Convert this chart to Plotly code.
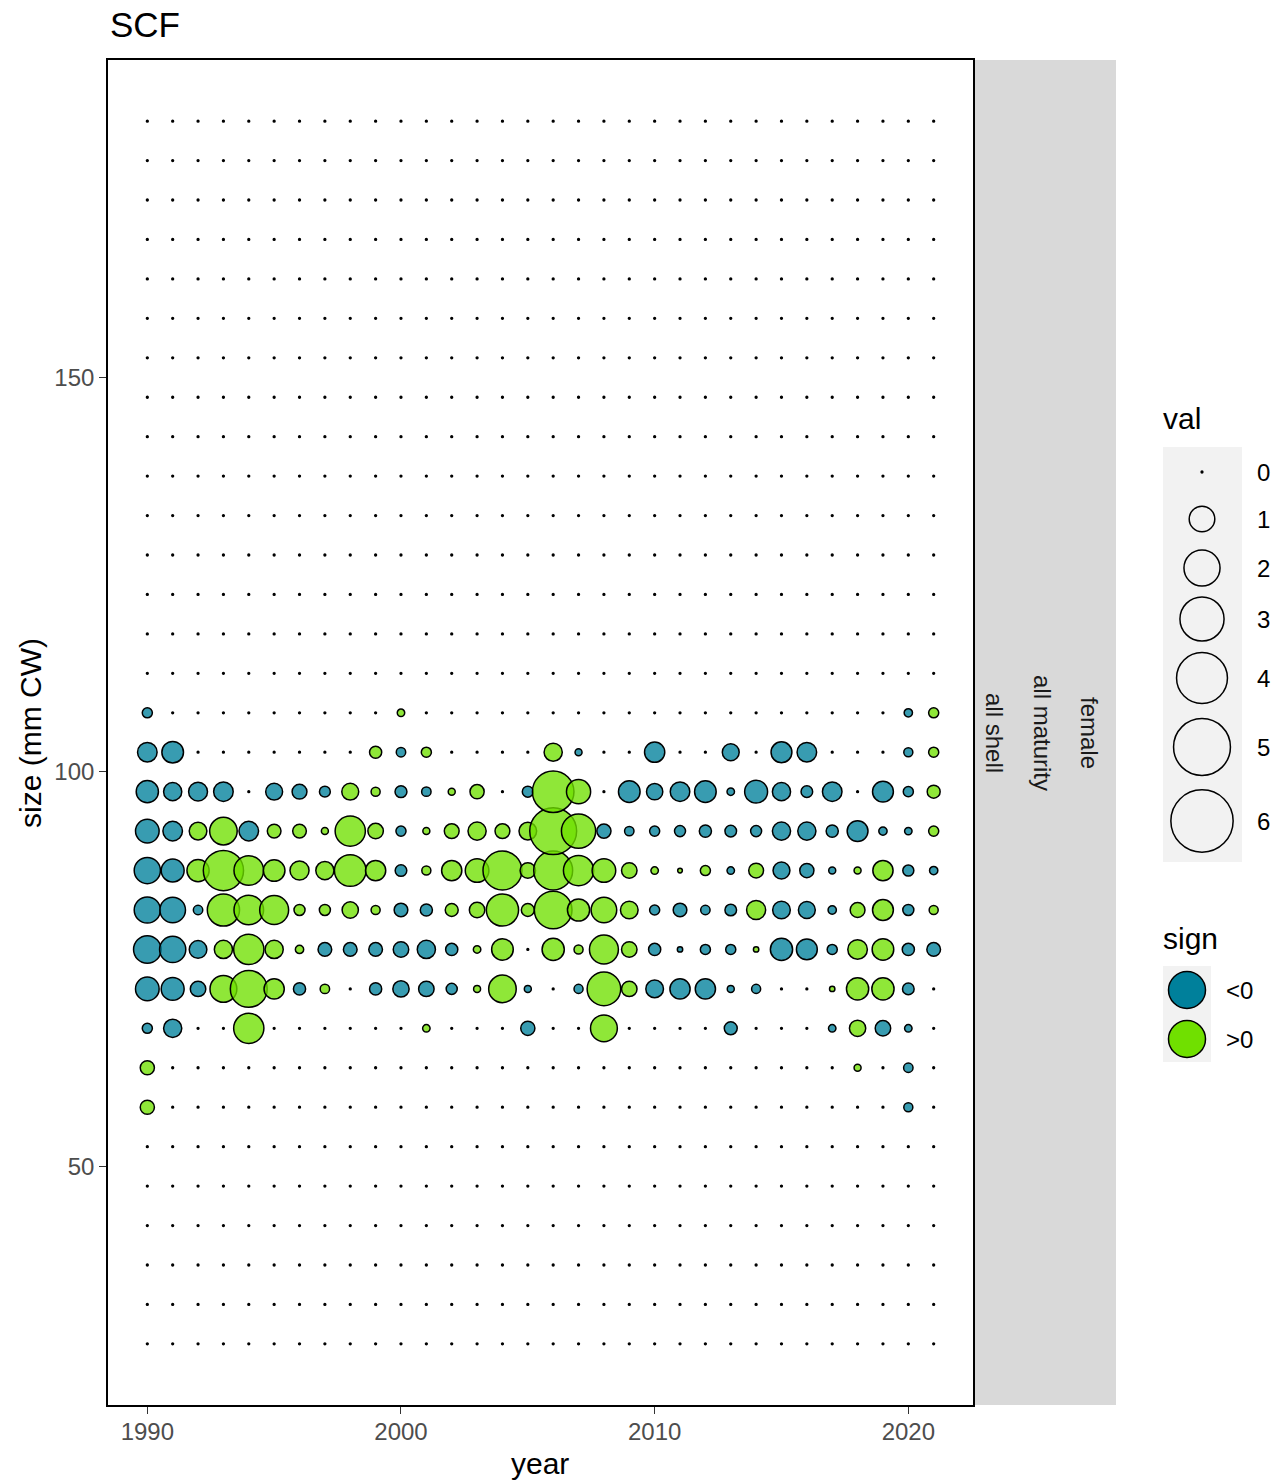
import plotly.graph_objects as go
import numpy as np

# ---------------- data ----------------
YEARS = list(range(1990, 2022))
SIZE_BINS = [27.5 + 5 * i for i in range(32)]
X_TICKS = [1990, 2000, 2010, 2020]
Y_TICKS = [50, 100, 150]

# standardized values by size bin (1990..2021); bins not listed are 0
v107_5 = [-0.15, 0, 0, 0, 0, 0, 0, 0, 0, 0, 0.08, 0, 0, 0, 0, 0, 0, 0, 0, 0,
          0, 0, 0, 0, 0, 0, 0, 0, 0, 0, -0.10, 0.15]
v102_5 = [-0.58, -0.71, 0, 0, 0, 0, 0, 0, 0, 0.22, -0.13, 0.15, 0, 0, 0, 0, 0.50, -0.07, 0, 0,
          -0.62, 0, 0, -0.43, 0, -0.66, -0.58, 0, 0, 0, -0.12, 0.15]
v97_5 = [-0.75, -0.50, -0.54, -0.58, 0, -0.43, -0.33, -0.175, 0.43, 0.12, -0.21, -0.13, 0.07, 0.30, 0, -0.18,
         2.66, 0.89, 0, -0.71, -0.40, -0.58, -0.71, -0.08, -0.80, -0.50, -0.20, -0.58, 0, -0.66, -0.15, 0.25]
v92_5 = [-0.85, -0.58, 0.47, 1.16, -0.58, 0.28, 0.28, 0.07, 1.40, 0.36, -0.15, 0.07, 0.33, 0.50, 0.33, 0.47,
         3.39, 1.80, -0.30, -0.13, -0.15, -0.18, -0.22, -0.20, -0.18, -0.50, -0.50, -0.22, -0.66, -0.10, -0.08, 0.15]
v87_5 = [-1.05, -0.80, 0.75, 2.49, 1.34, 0.71, 0.55, 0.50, 1.53, 0.62, -0.20, 0.12, 0.62, 0.85, 2.33, 0.36,
         2.33, 1.40, 0.85, 0.36, 0.08, 0.03, 0.15, -0.08, 0.33, -0.43, -0.30, -0.07, 0.07, 0.62, -0.18, -0.10]
v82_5 = [-1.05, -1.00, -0.13, 1.59, 1.34, 1.28, 0.18, 0.18, 0.40, 0.12, -0.28, -0.22, 0.25, 0.36, 1.59, 0.25,
         2.18, 0.75, 1.00, 0.47, -0.15, -0.28, -0.13, -0.20, 0.55, -0.47, -0.43, -0.10, 0.33, 0.66, -0.18, 0.12]
v77_5 = [-1.16, -1.05, -0.47, 0.50, 1.40, 0.50, 0.10, -0.28, -0.28, -0.28, -0.36, -0.50, -0.22, 0.08, 0.71, 0,
         0.75, 0.12, 1.28, 0.36, -0.22, -0.04, -0.15, -0.15, 0.04, -0.75, -0.66, -0.15, 0.58, 0.71, -0.22, -0.28]
v72_5 = [-0.85, -0.80, -0.36, 1.10, 2.09, 0.62, -0.22, 0.13, 0, -0.22, -0.40, -0.36, -0.18, 0.07, 1.16, -0.07,
         0, -0.12, 1.73, 0.36, -0.47, -0.62, -0.62, -0.07, -0.12, 0, 0, 0.04, 0.75, 0.75, -0.20, 0]
v67_5 = [-0.15, -0.50, 0, 0, 1.40, 0, 0, 0, 0, 0, 0, 0.08, 0, 0, 0, -0.30,
         0, 0, 1.10, 0, 0, 0, 0, -0.25, 0, 0, 0, -0.08, 0.40, -0.36, -0.08, 0]
v62_5 = [0.30, 0, 0, 0, 0, 0, 0, 0, 0, 0, 0, 0, 0, 0, 0, 0,
         0, 0, 0, 0, 0, 0, 0, 0, 0, 0, 0, 0, 0.07, 0, -0.13, 0]
v57_5 = [0.30, 0, 0, 0, 0, 0, 0, 0, 0, 0, 0, 0, 0, 0, 0, 0,
         0, 0, 0, 0, 0, 0, 0, 0, 0, 0, 0, 0, 0, 0, -0.12, 0]

ROWS = {107.5: v107_5, 102.5: v102_5, 97.5: v97_5, 92.5: v92_5, 87.5: v87_5,
        82.5: v82_5, 77.5: v77_5, 72.5: v72_5, 67.5: v67_5, 62.5: v62_5, 57.5: v57_5}

LEGEND_VALS = [0, 1, 2, 3, 4, 5, 6]
LEGEND_SIGNS = ["<0", ">0"]

# ---------------- styling ----------------
W, H = 1283, 1483
FONT = "Liberation Sans, Arial, sans-serif"
NEG_FILL = "rgba(0,128,155,0.78)"
POS_FILL = "rgba(112,224,0,0.78)"
NEG_SOLID = "#00809B"
POS_SOLID = "#70E000"
LW = 1.5


def diam(v):
    return max(1.8, 0.3 + 25.3 * np.sqrt(abs(v)))


xs, ys, sizes, colors = [], [], [], []
for s in SIZE_BINS:
    row = ROWS.get(s, [0] * len(YEARS))
    for yr, v in zip(YEARS, row):
        xs.append(yr)
        ys.append(s)
        sizes.append(diam(v))
        colors.append("black" if v == 0 else (NEG_FILL if v < 0 else POS_FILL))

fig = go.Figure()
fig.add_trace(go.Scatter(
    x=xs, y=ys, mode="markers", xaxis="x", yaxis="y", showlegend=False,
    marker=dict(size=sizes, color=colors, opacity=1, line=dict(color="black", width=LW)),
    hoverinfo="x+y"))

# overlay pixel-coordinate axes for legend glyphs
LEG_X = 1202
LEG_Y = [472, 519, 568, 619, 678, 747, 821]
fig.add_trace(go.Scatter(
    x=[LEG_X] * len(LEGEND_VALS), y=LEG_Y, mode="markers", xaxis="x2", yaxis="y2",
    showlegend=False, hoverinfo="skip",
    marker=dict(size=[diam(v) for v in LEGEND_VALS], opacity=1,
                color=["black"] + ["rgba(0,0,0,0)"] * (len(LEGEND_VALS) - 1),
                line=dict(color="black", width=LW))))
SIGN_Y = [990, 1039]
fig.add_trace(go.Scatter(
    x=[1187, 1187], y=SIGN_Y, mode="markers", xaxis="x2", yaxis="y2",
    showlegend=False, hoverinfo="skip",
    marker=dict(size=37, opacity=1, color=[NEG_SOLID, POS_SOLID], line=dict(color="black", width=LW))))

axis_common = dict(showgrid=False, zeroline=False, ticks="outside", ticklen=7, tickwidth=1.3,
                   tickcolor="#333333", tickfont=dict(family=FONT, size=24, color="#4D4D4D"),
                   showline=True, mirror=True, linecolor="black", linewidth=1.6)

fig.update_layout(
    width=W, height=H, margin=dict(l=0, r=0, t=0, b=0),
    paper_bgcolor="white", plot_bgcolor="rgba(0,0,0,0)",
    font=dict(family=FONT, color="black"),
    xaxis=dict(domain=[108 / W, 973 / W], range=[1988.45, 2022.55], tickvals=X_TICKS,
               anchor="y", ticklabelstandoff=-3, **axis_common),
    yaxis=dict(domain=[1 - 1405 / H, 1 - 60 / H], range=[19.75, 190.25], tickvals=Y_TICKS,
               anchor="x", **axis_common),
    xaxis2=dict(domain=[0, 1], range=[0, W], visible=False, anchor="y2", fixedrange=True),
    yaxis2=dict(domain=[0, 1], range=[H, 0], visible=False, anchor="x2", fixedrange=True),
    shapes=[
        dict(type="rect", xref="x2", yref="y2", x0=975, x1=1116, y0=60, y1=1405,
             fillcolor="#D9D9D9", line=dict(width=0), layer="below"),
        dict(type="rect", xref="x2", yref="y2", x0=1163, x1=1242, y0=447, y1=862,
             fillcolor="#F2F2F2", line=dict(width=0), layer="below"),
        dict(type="rect", xref="x2", yref="y2", x0=1163, x1=1211, y0=966, y1=1062,
             fillcolor="#F2F2F2", line=dict(width=0), layer="below"),
    ],
)

ann = []


def A(text, x, y, size, **kw):
    d = dict(text=text, x=x, y=y, xref="x2", yref="y2", showarrow=False,
             font=dict(family=FONT, size=size, color=kw.pop("color", "black")))
    d.update(kw)
    ann.append(d)


A("SCF", 108, 24, 35, xanchor="left")
A("year", 540, 1463, 30)
A("size (mm CW)", 30, 733, 30, textangle=-90)
A("female", 1090, 733, 24, textangle=90, color="#1A1A1A")
A("all maturity", 1043, 733, 24, textangle=90, color="#1A1A1A")
A("all shell", 995, 733, 24, textangle=90, color="#1A1A1A")
A("val", 1161, 418, 30, xanchor="left")
for v, yy in zip(LEGEND_VALS, LEG_Y):
    A(str(v), 1255, yy, 24, xanchor="left")
A("sign", 1161, 938, 30, xanchor="left")
for t, yy in zip(LEGEND_SIGNS, SIGN_Y):
    A(t, 1224, yy, 24, xanchor="left")
fig.update_layout(annotations=ann)

fig.write_html("out.html", config={"displayModeBar": False},
               post_script="document.body.style.margin='0';document.body.style.overflow='hidden';")
